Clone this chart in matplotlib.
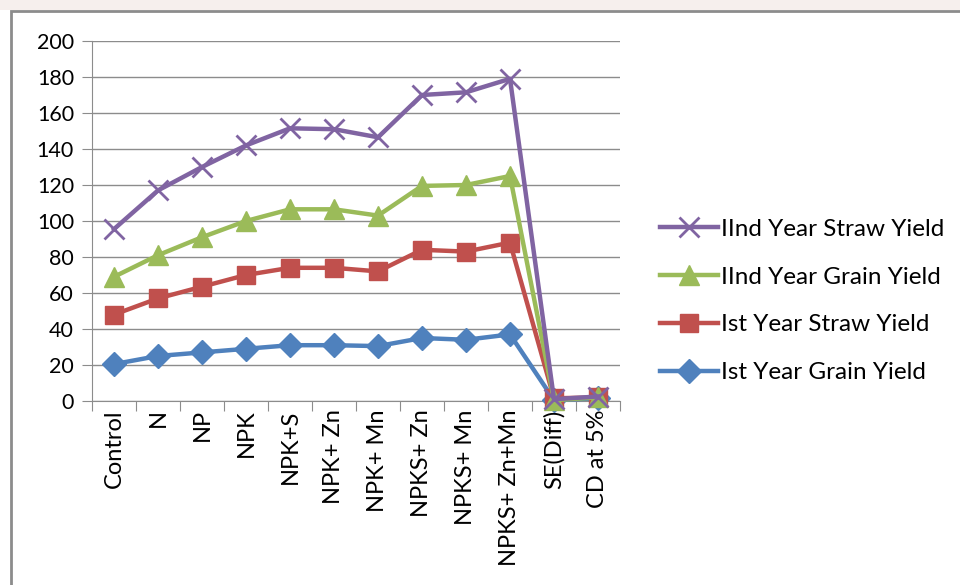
import matplotlib.pyplot as plt
from matplotlib.patches import Rectangle

categories = ['Control', 'N', 'NP', 'NPK', 'NPK+S', 'NPK+ Zn', 'NPK+ Mn',
              'NPKS+ Zn', 'NPKS+ Mn', 'NPKS+ Zn+Mn', 'SE(Diff)', 'CD at 5%']

grain_1 = [20.5, 25, 27, 29, 31, 31, 30.5, 35, 34, 37, 0.5, 1.5]
straw_1 = [48, 57, 63.5, 70, 74, 74, 72, 84, 83, 88, 1.5, 2]
grain_2 = [69, 81, 91, 100, 106.5, 106.5, 103, 119.5, 120, 125, 0.5, 2]
straw_2 = [95.5, 117, 130, 142, 151.5, 151, 146.5, 170, 171.5, 179, 1, 2.5]

plt.rcParams['font.family'] = ['Lato', 'DejaVu Sans']

W, H = 960, 585
fig = plt.figure(figsize=(W / 100, H / 100), dpi=100)
fig.patch.set_facecolor('white')

# pale strip above the chart frame and the gray frame itself
fig.patches.append(Rectangle((0, 1 - 10 / H), 1, 10 / H, transform=fig.transFigure,
                             facecolor='#f6efed', edgecolor='none', zorder=-10))
fig.patches.append(Rectangle((11 / W, -0.01), 1.0, 1 - 11 / H + 0.01, transform=fig.transFigure,
                             facecolor='white', edgecolor='#8c8c8c', linewidth=2, zorder=-10))

ax = fig.add_axes([92 / W, 1 - 401 / H, 528 / W, 360 / H])
ax.set_facecolor('none')
x = list(range(len(categories)))

series = [
    (grain_1, 'Ist Year Grain Yield', '#4f81bd', 'D', 12),
    (straw_1, 'Ist Year Straw Yield', '#c0504d', 's', 13),
    (grain_2, 'IInd Year Grain Yield', '#9bbb59', '^', 14),
    (straw_2, 'IInd Year Straw Yield', '#8064a2', 'x', 14),
]
for vals, name, col, mk, ms in series:
    ax.plot(x, vals, color=col, lw=3.2, marker=mk, markersize=ms,
            markeredgewidth=2 if mk == 'x' else 1, markeredgecolor=col,
            label=name, clip_on=False, zorder=3)

ax.set_xlim(-0.5, len(categories) - 0.5)
ax.set_ylim(0, 200)
ax.set_yticks(range(0, 201, 20))
ax.yaxis.grid(True, color='#8c8c8c', lw=1)
ax.set_axisbelow(True)
ax.set_xticks([i + 0.5 for i in range(-1, len(categories))], minor=False)
ax.set_xticklabels([])
ax.set_xticks(x, minor=True)
ax.set_xticklabels(categories, minor=True, rotation=90, fontsize=17)
ax.tick_params(axis='x', which='major', length=7, color='#8c8c8c', direction='out')
ax.tick_params(axis='x', which='minor', length=0, pad=6)
ax.tick_params(axis='y', length=7, color='#8c8c8c', labelsize=15.5, pad=6)
for s in ['top', 'right']:
    ax.spines[s].set_visible(False)
for s in ['left', 'bottom']:
    ax.spines[s].set_color('#8c8c8c')

handles, labels = ax.get_legend_handles_labels()
fig.legend(handles[::-1], labels[::-1], loc='center left',
           bbox_to_anchor=(638 / W, 1 - 301 / H), frameon=False, fontsize=17.5,
           handlelength=2.4, handletextpad=0.1, labelspacing=1.1)

fig.savefig('out.png', dpi=100)
